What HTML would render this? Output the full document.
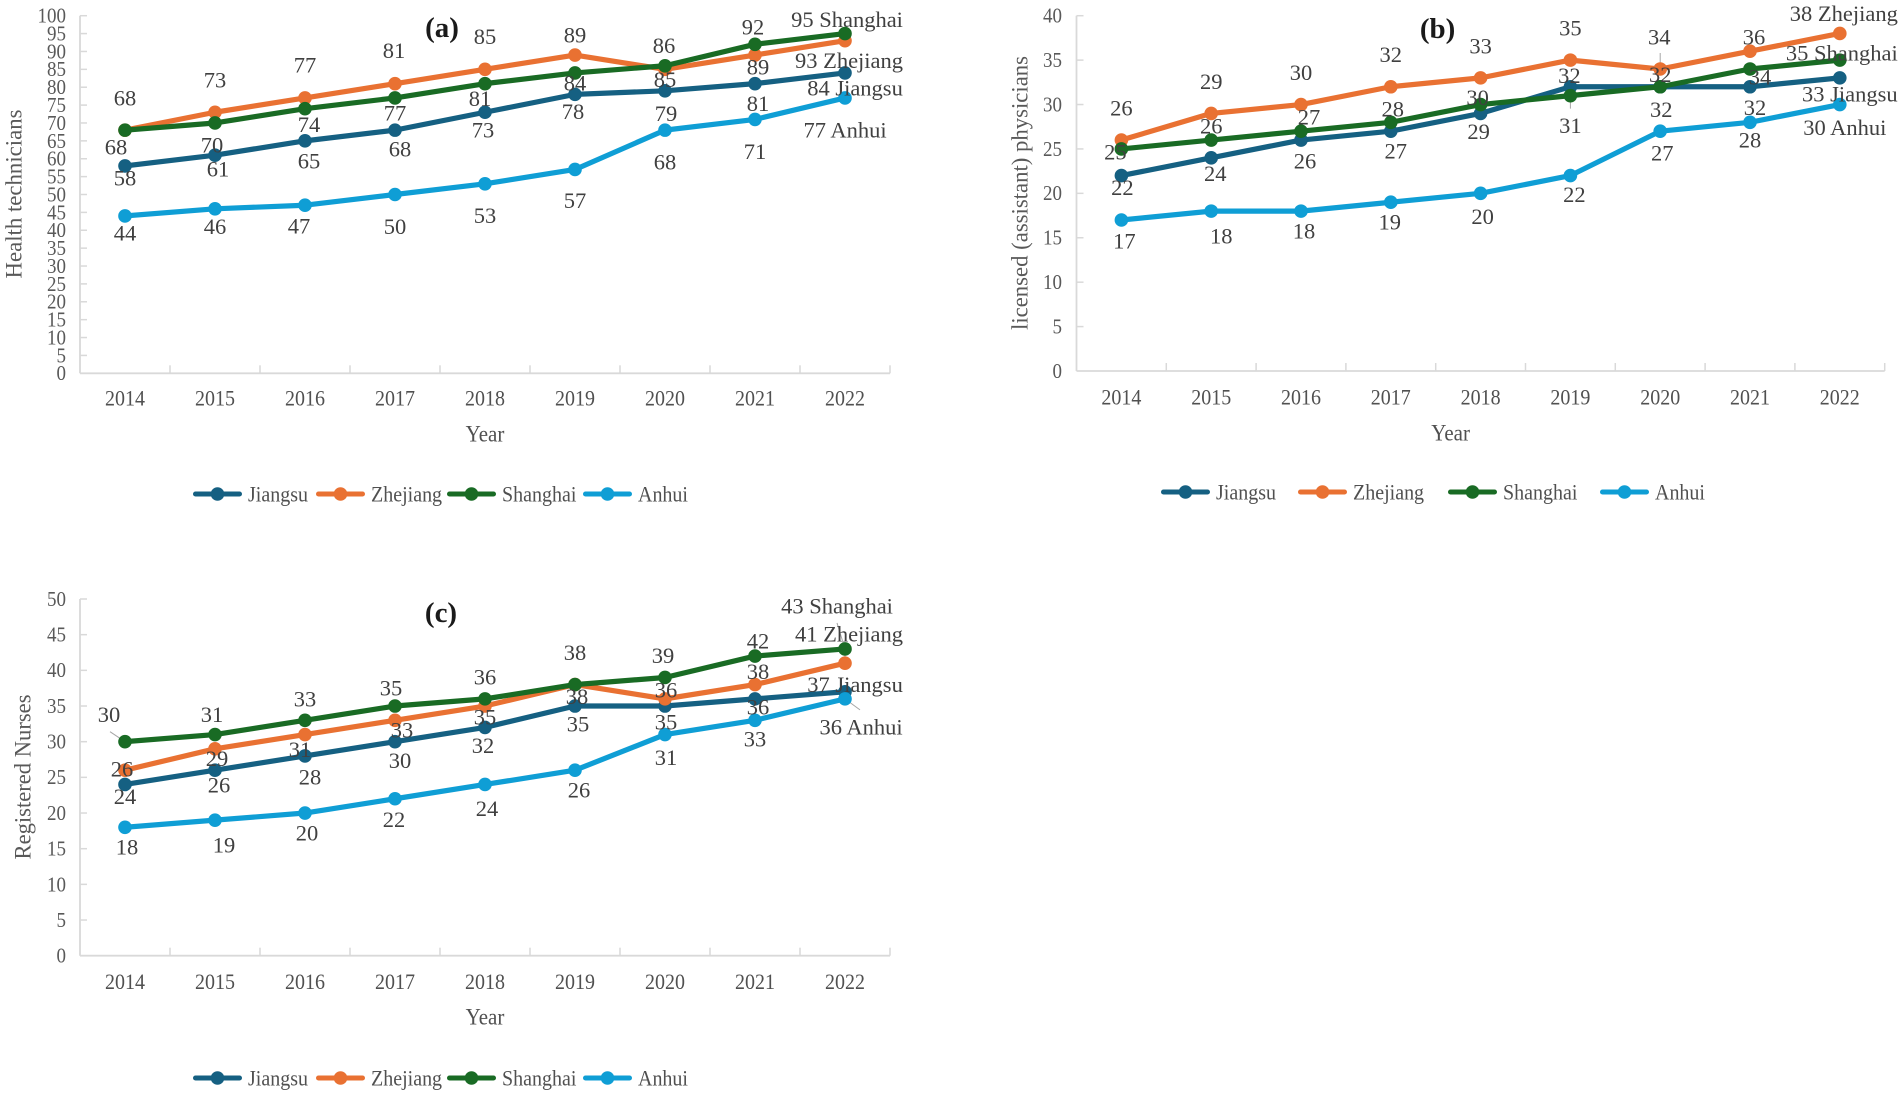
<!DOCTYPE html>
<html lang="en">
<head>
<meta charset="utf-8">
<title>Health workforce per 10,000 population, 2014-2022</title>
<style>
  html, body { margin: 0; padding: 0; background: #ffffff; }
  body { width: 1902px; height: 1093px; overflow: hidden; }
  svg { display: block; filter: blur(0.35px); }
  text { font-family: "Liberation Serif", "Times New Roman", serif; }
</style>
</head>
<body>
<svg id="figure" xmlns="http://www.w3.org/2000/svg" width="1902" height="1093" viewBox="0 0 1902 1093"></svg>
<script>
// ---------- shared data ----------
const years = ['2014', '2015', '2016', '2017', '2018', '2019', '2020', '2021', '2022'];
const seriesNames = ['Jiangsu', 'Zhejiang', 'Shanghai', 'Anhui'];

// ---------- panel (a) health technicians ----------
const techJiangsu = [58, 61, 65, 68, 73, 78, 79, 81, 84];
const techZhejiang = [68, 73, 77, 81, 85, 89, 85, 89, 93];
const techShanghai = [68, 70, 74, 77, 81, 84, 86, 92, 95];
const techAnhui = [44, 46, 47, 50, 53, 57, 68, 71, 77];
const techTicks = [0, 5, 10, 15, 20, 25, 30, 35, 40, 45, 50, 55, 60, 65, 70, 75, 80, 85, 90, 95, 100];

// ---------- panel (b) licensed (assistant) physicians ----------
const docJiangsu = [22, 24, 26, 27, 29, 32, 32, 32, 33];
const docZhejiang = [26, 29, 30, 32, 33, 35, 34, 36, 38];
const docShanghai = [25, 26, 27, 28, 30, 31, 32, 34, 35];
const docAnhui = [17, 18, 18, 19, 20, 22, 27, 28, 30];
const docTicks = [0, 5, 10, 15, 20, 25, 30, 35, 40];

// ---------- panel (c) registered nurses ----------
const nurseJiangsu = [24, 26, 28, 30, 32, 35, 35, 36, 37];
const nurseZhejiang = [26, 29, 31, 33, 35, 38, 36, 38, 41];
const nurseShanghai = [30, 31, 33, 35, 36, 38, 39, 42, 43];
const nurseAnhui = [18, 19, 20, 22, 24, 26, 31, 33, 36];
const nurseTicks = [0, 5, 10, 15, 20, 25, 30, 35, 40, 45, 50];

// ---------- styling / layout (not data) ----------
const seriesColors = ['#156082', '#E97132', '#196B24', '#0F9ED5'];

const panels = [
  {
    key: 'a', title: '(a)', yTitle: 'Health technicians',
    series: [techJiangsu, techZhejiang, techShanghai, techAnhui], ticks: techTicks,
    left: 80, right: 890, top: 15.7, bottom: 373.3,
    titleX: 442, titleY: 28, yTitleX: 14, yTitleY: 194, yTitleLen: 169, tickEnd: 66,
    xLabelY: 398, xTitleX: 485, xTitleY: 434, legendY: 494,
    legendLines: [193, 316, 447, 583], legendLen: 49,
    labelDx: [
      [0, 3, 4, 5, -2, -2, 1, 3, 10],
      [0, 0, 0, -1, 0, 0, 0, 3, 4],
      [-9, -3, 4, 0, -5, 0, -1, -2, 2],
      [0, 0, -6, 0, 0, 0, 0, 0, 0]
    ],
    labelDy: [
      [12, 14, 20, 19, 18, 17, 23, 20, 15],
      [-32, -32, -33, -33, -33, -20, 10, 12, 20],
      [17, 22, 16, 15, 15, 10, -20, -17, -14],
      [17, 18, 21, 32, 32, 31, 32, 32, 32]
    ],
    leaders: []
  },
  {
    key: 'b', title: '(b)', yTitle: 'licensed (assistant) physicians',
    series: [docJiangsu, docZhejiang, docShanghai, docAnhui], ticks: docTicks,
    left: 1076.5, right: 1884.7, top: 15.7, bottom: 371,
    titleX: 1437.6, titleY: 29, yTitleX: 1020, yTitleY: 193, yTitleLen: 274, tickEnd: 1062,
    xLabelY: 397, xTitleX: 1450.6, xTitleY: 433, legendY: 492,
    legendLines: [1161, 1298, 1448, 1600], legendLen: 49,
    labelDx: [
      [1, 4, 4, 5, -2, -1, 1, 5, 10],
      [0, 0, 0, 0, 0, 0, -1, 4, 4],
      [-6, 0, 8, 2, -3, 0, 0, 10, 2],
      [3, 10, 3, -1, 2, 4, 2, 0, 5]
    ],
    labelDy: [
      [12, 16, 21, 20, 18, -11, 23, 21, 16],
      [-32, -32, -32, -32, -32, -32, -32, -14, -20],
      [3, -14, -14, -13, -7, 30, -12, 8, -7],
      [21, 25, 20, 20, 23, 19, 22, 18, 23]
    ],
    leaders: [
      { s: 1, i: 6, x1: 0, y1: -16, x2: 0, y2: 0 },
      { s: 2, i: 5, x1: 0, y1: 1, x2: 0, y2: 13 }
    ]
  },
  {
    key: 'c', title: '(c)', yTitle: 'Registered Nurses',
    series: [nurseJiangsu, nurseZhejiang, nurseShanghai, nurseAnhui], ticks: nurseTicks,
    left: 80, right: 890, top: 599, bottom: 955.7,
    titleX: 441, titleY: 613, yTitleX: 23, yTitleY: 777, yTitleLen: 165, tickEnd: 66,
    xLabelY: 981.7, xTitleX: 485, xTitleY: 1017, legendY: 1078,
    legendLines: [193, 316, 447, 583], legendLen: 49,
    labelDx: [
      [0, 4, 5, 5, -2, 3, 1, 3, 10],
      [-3, 2, -5, 7, 0, 2, 1, 3, 4],
      [-16, -3, 0, -4, 0, 0, -2, 3, -8],
      [2, 9, 2, -1, 2, 4, 1, 0, 16]
    ],
    labelDy: [
      [12, 15, 21, 19, 18, 18, 16, 8, -7],
      [-1, 10, 15, 10, 11, 12, -9, -13, -29],
      [-27, -20, -21, -18, -22, -32, -22, -15, -43],
      [20, 25, 20, 21, 24, 20, 23, 19, 28]
    ],
    leaders: [
      { s: 2, i: 0, x1: -15, y1: -10, x2: 0, y2: 0 },
      { s: 3, i: 8, x1: 0, y1: 0, x2: 15, y2: 11 },
      { s: 2, i: 8, x1: -8, y1: -26, x2: 0, y2: 0 },
      { s: 1, i: 8, x1: 0, y1: -17, x2: 0, y2: 0 }
    ]
  }
];

// ---------- drawing ----------
const SVG_NS = 'http://www.w3.org/2000/svg';
const figure = document.getElementById('figure');
const TALL = 1.1;

function make(tag, attrs, parent) {
  const node = document.createElementNS(SVG_NS, tag);
  for (const k in attrs) node.setAttribute(k, attrs[k]);
  parent.appendChild(node);
  return node;
}

function makeText(str, x, cy, size, fill, anchor, parent, stretch) {
  const sy = stretch || 1;
  const node = make('text', {
    x: 0, y: 0, 'font-size': size, fill: fill, 'text-anchor': anchor,
    transform: 'translate(' + x + ' ' + (cy + size * 0.33 * sy) + ') scale(1 ' + sy + ')'
  }, parent);
  node.textContent = str;
  return node;
}

function drawPanel(p) {
  const maxTick = p.ticks[p.ticks.length - 1];
  const step = (p.right - p.left) / years.length;
  const xScale = i => p.left + step * (i + 0.5);
  const yScale = v => p.bottom - (v / maxTick) * (p.bottom - p.top);

  const group = make('g', {}, figure);
  
  

  // axes
  const yAxis = make('line', { x1: p.left, x2: p.left, y1: p.top, y2: p.bottom, stroke: '#d9d9d9', 'stroke-width': 1.8 }, group);
  
  

  const xAxis = make('line', { x1: p.left, x2: p.right, y1: p.bottom, y2: p.bottom, stroke: '#d9d9d9', 'stroke-width': 1.8 }, group);
  
  

  p.ticks.forEach(t => {
    const y = yScale(t);
    if (t !== 0) {
      const mark = make('line', { x1: p.left, x2: p.left + 7, y1: y, y2: y, stroke: '#d9d9d9', 'stroke-width': 1.5 }, group);
      
      
    }
    const label = makeText(String(t), p.tickEnd, y, 19, '#595959', 'end', group, TALL);
    
    
  });

  for (let i = 1; i <= years.length; i++) {
    const x = p.left + step * i;
    const mark = make('line', { x1: x, x2: x, y1: p.bottom, y2: p.bottom - 8, stroke: '#d9d9d9', 'stroke-width': 1.5 }, group);
    
    
  }

  years.forEach((yr, i) => {
    const label = makeText(yr, xScale(i), p.xLabelY, 20, '#505050', 'middle', group, TALL);
    
    
  });

  const xTitle = makeText('Year', p.xTitleX, p.xTitleY, 21, '#505050', 'middle', group, TALL);
  
  

  const yTitle = make('text', {
    x: 0, y: 0, 'font-size': 23, fill: '#595959', 'text-anchor': 'middle',
    textLength: p.yTitleLen, lengthAdjust: 'spacingAndGlyphs',
    transform: 'translate(' + (p.yTitleX + 7.5) + ' ' + p.yTitleY + ') rotate(-90)'
  }, group);
  yTitle.textContent = p.yTitle;
  
  

  const title = make('text', {
    x: p.titleX, y: p.titleY + 9, 'font-size': 29, 'font-weight': 'bold', fill: '#1a1a1a', 'text-anchor': 'middle'
  }, group);
  title.textContent = p.title;
  
  

  // leader lines
  p.leaders.forEach(l => {
    const px = xScale(l.i);
    const py = yScale(p.series[l.s][l.i]);
    const leader = make('line', {
      x1: px + l.x1, y1: py + l.y1, x2: px + l.x2, y2: py + l.y2, stroke: '#a6a6a6', 'stroke-width': 1
    }, group);
    
    
  });

  // series lines and points
  p.series.forEach((vals, s) => {
    const slug = seriesNames[s].toLowerCase();
    const sg = make('g', {}, group);
    
    

    const pts = vals.map((v, i) => xScale(i) + ',' + yScale(v)).join(' ');
    const line = make('polyline', {
      points: pts, fill: 'none', stroke: seriesColors[s], 'stroke-width': 5.2,
      'stroke-linejoin': 'round', 'stroke-linecap': 'round'
    }, sg);
    
    

    vals.forEach((v, i) => {
      const dot = make('circle', { cx: xScale(i), cy: yScale(v), r: 6.8, fill: seriesColors[s] }, sg);
      
      
    });
  });

  // data labels
  p.series.forEach((vals, s) => {
    const slug = seriesNames[s].toLowerCase();
    vals.forEach((v, i) => {
      const str = i === vals.length - 1 ? v + ' ' + seriesNames[s] : String(v);
      const label = makeText(str, xScale(i) + p.labelDx[s][i], yScale(v) + p.labelDy[s][i], 22.5, '#404040', 'middle', group);
      
      
    });
  });

  // legend
  const legend = make('g', {}, group);
  
  

  seriesNames.forEach((name, s) => {
    const x0 = p.legendLines[s];
    const entry = make('g', {}, legend);
    
    

    const swatch = make('line', {
      x1: x0 + 2.5, x2: x0 + p.legendLen - 2.5, y1: p.legendY, y2: p.legendY,
      stroke: seriesColors[s], 'stroke-width': 5, 'stroke-linecap': 'round'
    }, entry);
    
    

    const dot = make('circle', { cx: x0 + p.legendLen / 2, cy: p.legendY, r: 6.8, fill: seriesColors[s] }, entry);
    
    

    const label = makeText(name, x0 + p.legendLen + 6, p.legendY, 20, '#505050', 'start', entry, TALL);
    
    
  });
}

panels.forEach(drawPanel);
</script>
</body>
</html>
